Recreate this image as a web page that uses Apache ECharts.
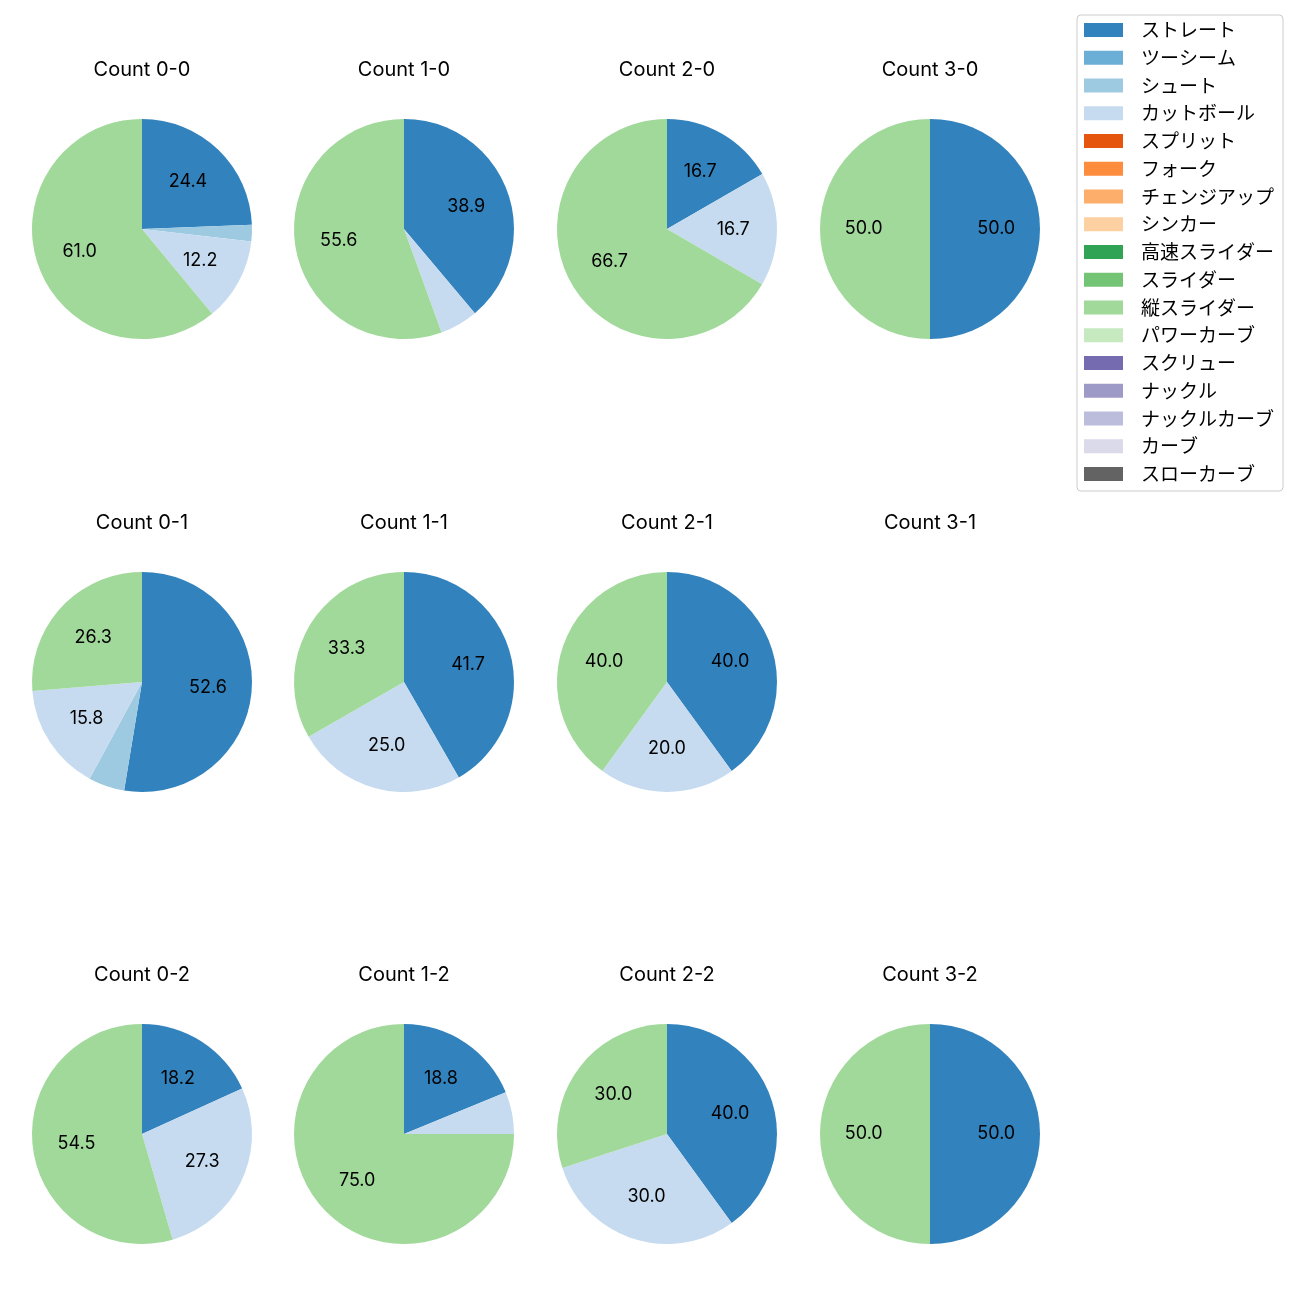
<!DOCTYPE html>
<html>
<head>
<meta charset="utf-8">
<script src="https://cdn.jsdelivr.net/npm/echarts@6/dist/echarts.min.js"></script>
<style>
html,body{margin:0;padding:0;background:#fff;}
#chart{width:1300px;height:1300px;}
</style>
</head>
<body>
<div id="chart"></div>
<script>
// Pitch types (legend order) and their colours
const pitchTypes = ['ストレート','ツーシーム','シュート','カットボール','スプリット','フォーク','チェンジアップ','シンカー','高速スライダー','スライダー','縦スライダー','パワーカーブ','スクリュー','ナックル','ナックルカーブ','カーブ','スローカーブ'];
const pitchColors = ['#3182bd','#6baed6','#9ecae1','#c6dbef','#e6550d','#fd8d3c','#fdae6b','#fdd0a2','#31a354','#74c476','#a1d99b','#c7e9c0','#756bb1','#9e9ac8','#bcbddc','#dadaeb','#636363'];

// Percentages per count, aligned with pitchTypes
const count_0_0 = [24.4,0,2.4,12.2,0,0,0,0,0,0,61.0,0,0,0,0,0,0];
const count_1_0 = [38.9,0,0,5.6,0,0,0,0,0,0,55.6,0,0,0,0,0,0];
const count_2_0 = [16.7,0,0,16.7,0,0,0,0,0,0,66.7,0,0,0,0,0,0];
const count_3_0 = [50.0,0,0,0,0,0,0,0,0,0,50.0,0,0,0,0,0,0];
const count_0_1 = [52.6,0,5.3,15.8,0,0,0,0,0,0,26.3,0,0,0,0,0,0];
const count_1_1 = [41.7,0,0,25.0,0,0,0,0,0,0,33.3,0,0,0,0,0,0];
const count_2_1 = [40.0,0,0,20.0,0,0,0,0,0,0,40.0,0,0,0,0,0,0];
const count_3_1 = [0,0,0,0,0,0,0,0,0,0,0,0,0,0,0,0,0];
const count_0_2 = [18.2,0,0,27.3,0,0,0,0,0,0,54.5,0,0,0,0,0,0];
const count_1_2 = [18.8,0,0,6.2,0,0,0,0,0,0,75.0,0,0,0,0,0,0];
const count_2_2 = [40.0,0,0,30.0,0,0,0,0,0,0,30.0,0,0,0,0,0,0];
const count_3_2 = [50.0,0,0,0,0,0,0,0,0,0,50.0,0,0,0,0,0,0];

const countTitles = ['Count 0-0','Count 1-0','Count 2-0','Count 3-0','Count 0-1','Count 1-1','Count 2-1','Count 3-1','Count 0-2','Count 1-2','Count 2-2','Count 3-2'];
const countData = [count_0_0,count_1_0,count_2_0,count_3_0,count_0_1,count_1_1,count_2_1,count_3_1,count_0_2,count_1_2,count_2_2,count_3_2];

const FONT = '"Noto Sans CJK JP", "Noto Sans", sans-serif';
const LATIN_FONT = 'Inter, "Noto Sans CJK JP", sans-serif';
const colX = [142, 404, 667, 930];
const rowY = [229, 682, 1134];
const R = 110;
const LABEL_MIN = 8;

const chart = echarts.init(document.getElementById('chart'), null, {renderer:'canvas'});

const series = [];
const titles = [];
countData.forEach((vals, idx) => {
  const cx = colX[idx % 4], cy = rowY[Math.floor(idx / 4)];
  titles.push({
    text: countTitles[idx], left: cx, top: cy - 160 - 10, textAlign: 'center',
    padding: 0,
    textStyle: {fontFamily: LATIN_FONT, fontSize: 20, fontWeight: 'normal', color: '#000', lineHeight: 22}
  });
  const data = [];
  vals.forEach((v, i) => {
    if (v > 0) data.push({name: pitchTypes[i], value: v, itemStyle: {color: pitchColors[i]}});
  });
  if (!data.length) return;
  series.push({
    type: 'pie', center: [cx, cy], radius: [0, R], startAngle: 90, clockwise: true,
    silent: true, animation: false, minAngle: 0,
    label: {show: false}, labelLine: {show: false},
    data: data
  });
  series.push({
    type: 'pie', center: [cx, cy], radius: [0, R * 1.15], startAngle: 90, clockwise: true,
    silent: true, animation: false, legendHoverLink: false,
    itemStyle: {color: 'rgba(0,0,0,0)'},
    label: {
      show: true, position: 'inside', fontFamily: LATIN_FONT, fontSize: 18, color: '#000',
      formatter: p => (p.value >= LABEL_MIN ? p.value.toFixed(1) : '')
    },
    labelLine: {show: false},
    data: data.map(d => ({name: d.name, value: d.value, itemStyle: {color: 'rgba(0,0,0,0)'}}))
  });
});

// legend provider (all pitch types, placed off-canvas)
series.push({
  type: 'pie', center: [-500, -500], radius: [0, 1], silent: true, animation: false,
  label: {show: false}, labelLine: {show: false},
  data: pitchTypes.map((n, i) => ({name: n, value: 1, itemStyle: {color: pitchColors[i]}}))
});

chart.setOption({
  backgroundColor: '#fff',
  animation: false,
  title: titles,
  legend: {
    data: pitchTypes, orient: 'vertical', left: 1077, top: 15,
    icon: 'rect', itemWidth: 39, itemHeight: 14, itemGap: 7.75,
    selectedMode: false,
    backgroundColor: '#fff', borderColor: '#cccccc', borderWidth: 1, borderRadius: 4,
    padding: [5, 9, 7, 7],
    textStyle: {fontFamily: FONT, fontSize: 19, color: '#000', lineHeight: 20, padding: [0, 0, 0, 13]}
  },
  series: series
});
</script>
</body>
</html>
